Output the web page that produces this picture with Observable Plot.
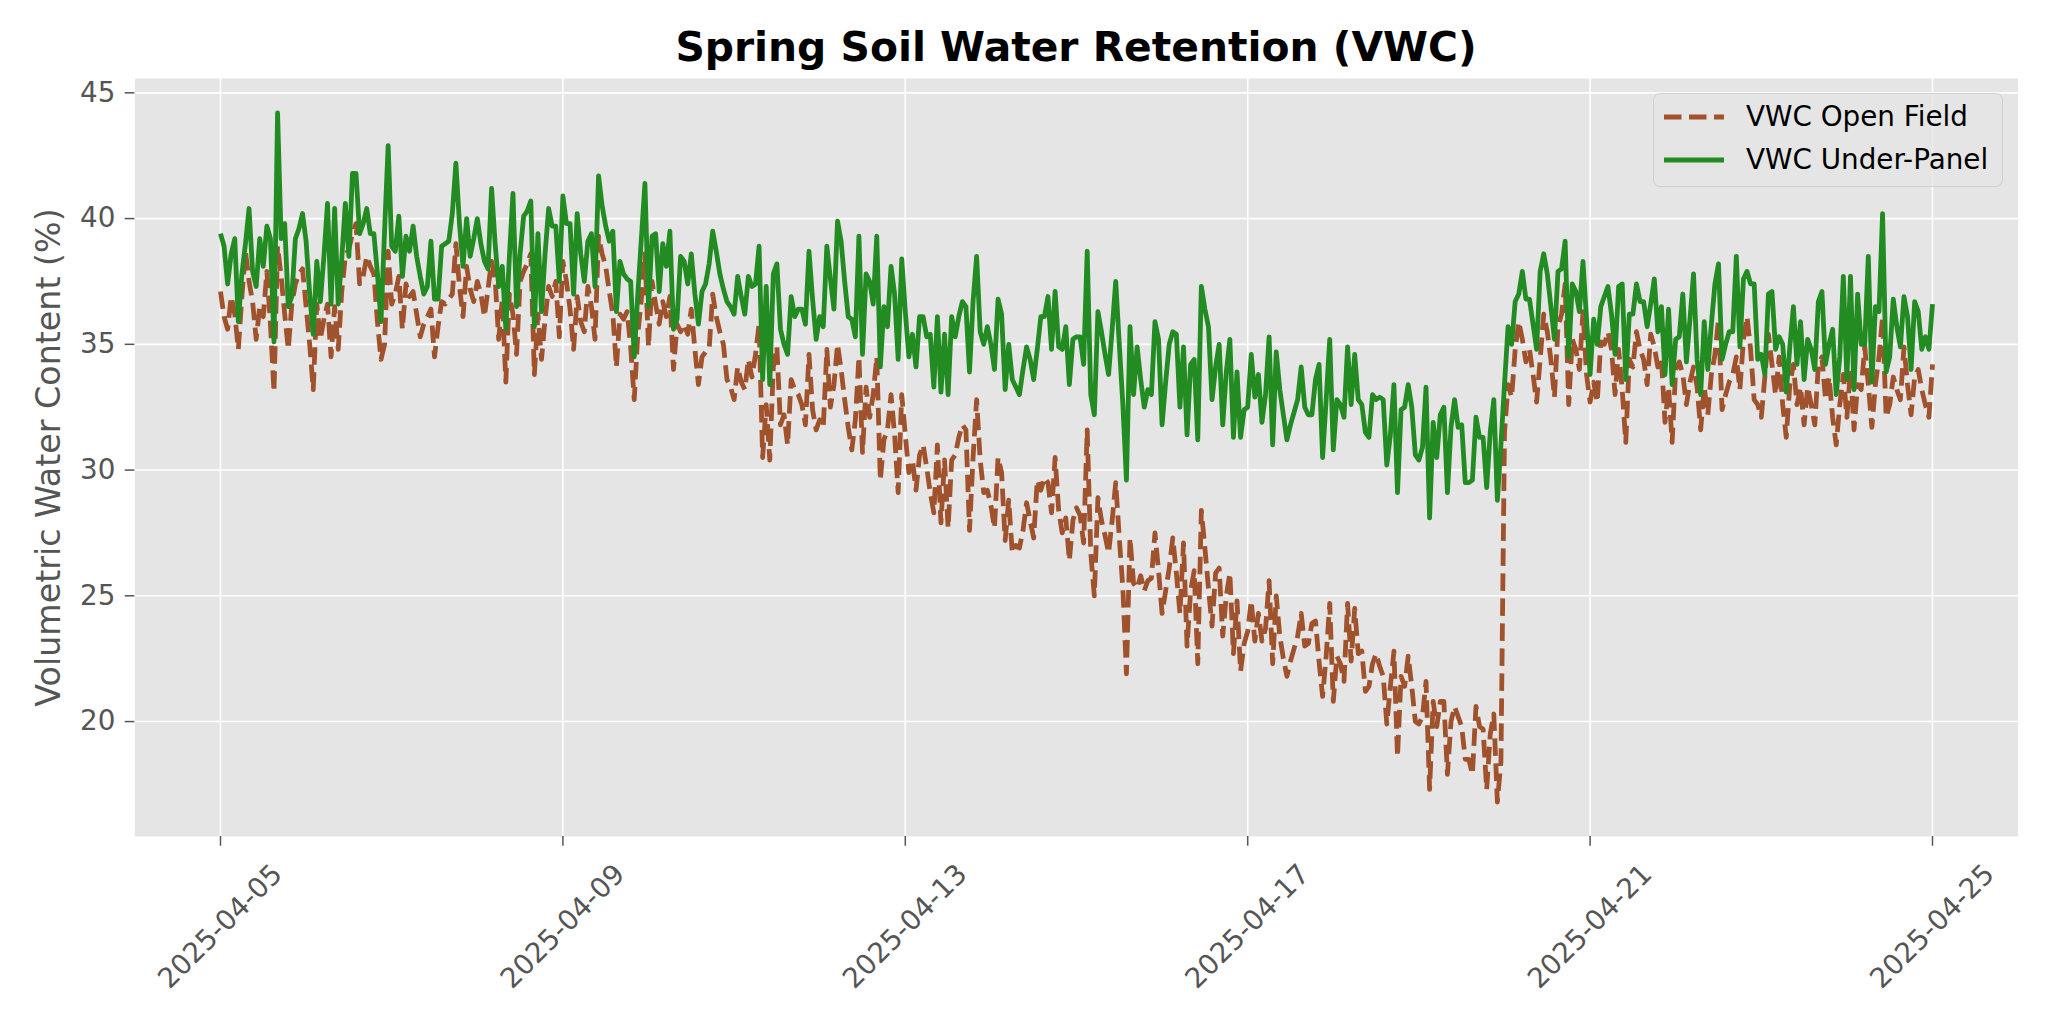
<!DOCTYPE html>
<html>
<head>
<meta charset="utf-8">
<script src="https://cdn.jsdelivr.net/npm/d3@7"></script>
<script src="https://cdn.jsdelivr.net/npm/@observablehq/plot@0.6"></script>
<style>
  body { margin: 0; background: #fff; }
  #chart { position: relative; width: 2048px; height: 1024px; font-family: "DejaVu Sans", sans-serif; }
  #title {
    position: relative; z-index: 2;
    height: 74px; box-sizing: border-box; padding-top: 27px;
    margin-left: 134.4px; width: 1883.2px;
    font-size: 40.8px; line-height: 40px; font-weight: bold; text-align: center; color: #000;
  }
  #legend {
    position: absolute; left: 1653px; top: 92.7px; width: 350px; height: 94px;
    box-sizing: border-box; background: rgba(229,229,229,0.8);
    border: 1.5px solid rgba(204,204,204,0.8); border-radius: 7px; z-index: 3;
  }
  .row { position: absolute; left: 0; height: 40px; line-height: 40px; font-size: 27.8px; color: #000; white-space: nowrap; }
  .row svg { position: absolute; left: 10px; top: 15px; }
  .row span { position: absolute; left: 92px; top: 0; }
</style>
</head>
<body>
<div id="chart">
  <div id="title">Spring Soil Water Retention (VWC)</div>
  <div id="legend"></div>
</div>
<script>
// Hourly volumetric water content (%), 2025-04-05 00:00 UTC through 2025-04-25 00:00 UTC.
const startTime = Date.UTC(2025, 3, 5, 0, 0, 0);
const HOUR = 3600 * 1000;

const openField = [
  37.1,36.1,35.6,36.9,36.2,34.8,36.9,38.7,37.5,36.7,35.2,36.5,36.1,37.9,35.8,33.1,38.9,37.7,36.2,34.8,36.6,37.4,37.8,38.0,
  36.5,35.0,33.2,36.6,35.2,36.0,36.6,34.5,36.5,34.8,37.1,38.5,38.8,39.4,39.8,37.4,37.7,38.5,38.1,37.8,35.9,34.4,35.0,38.7,
  36.6,37.0,37.7,35.6,37.4,36.9,37.1,36.2,35.3,35.8,36.1,36.4,34.5,35.7,36.7,36.6,36.8,37.0,39.0,37.3,36.1,38.1,37.2,36.7,
  37.5,37.0,36.1,37.2,38.3,37.6,35.2,36.8,33.5,37.0,36.2,34.6,37.5,37.9,38.2,38.6,33.8,36.2,34.4,36.0,37.3,36.9,37.5,35.3,
  38.3,37.5,36.4,34.8,36.9,35.9,35.5,37.3,36.5,35.2,39.3,38.6,38.1,37.1,36.2,34.1,36.2,36.0,36.3,34.9,32.8,35.4,36.8,38.6,
  34.9,37.5,36.6,35.8,36.7,36.1,36.9,34.0,35.8,35.5,35.8,35.4,36.4,34.8,33.4,34.5,34.7,34.8,37.0,36.1,35.5,35.0,33.6,33.3,
  32.8,34.1,33.5,33.2,34.4,33.7,34.6,35.8,30.5,32.6,30.4,34.1,34.9,31.8,32.2,31.0,33.6,33.2,33.0,32.6,31.8,34.6,32.4,31.6,
  32.0,31.7,34.8,32.5,33.4,35.0,34.0,32.8,31.7,30.8,32.0,34.5,30.7,33.3,32.1,33.0,34.5,29.6,31.2,31.6,33.0,31.4,29.1,33.0,
  31.4,29.9,30.4,29.2,30.6,31.0,30.1,29.1,28.3,31.0,27.9,30.4,27.7,30.4,30.6,31.3,31.8,31.6,27.6,30.5,32.8,30.4,29.1,29.2,
  28.6,27.7,30.5,29.9,27.2,28.8,26.7,27.0,26.9,27.6,28.7,28.0,27.3,29.6,29.2,29.7,29.5,28.3,30.5,28.4,27.5,28.1,26.4,28.0,
  28.5,28.2,27.1,31.6,26.7,25.0,28.9,28.0,27.4,26.7,28.0,29.5,27.3,25.3,21.9,27.3,25.5,25.3,25.8,25.2,25.6,25.7,27.5,26.0,
  24.3,25.2,26.1,27.3,25.9,24.3,27.1,23.0,25.2,26.0,22.3,28.4,26.9,25.3,23.8,25.9,26.1,23.4,25.0,25.9,22.7,24.8,22.0,23.1,
  23.6,24.8,23.2,24.3,23.2,23.7,25.6,22.3,25.0,23.4,22.5,21.8,22.4,22.9,23.4,24.3,23.0,23.1,23.9,24.0,22.4,21.0,22.6,24.7,
  20.8,22.6,22.3,21.6,24.7,22.4,24.5,22.7,22.8,21.2,21.4,22.3,22.7,22.2,21.8,19.9,21.4,22.8,18.6,21.8,21.4,22.6,21.4,20.0,
  19.9,20.2,21.6,17.3,20.8,19.8,20.8,20.8,17.9,20.0,20.6,20.2,19.8,18.5,18.5,17.9,20.6,19.8,19.7,17.3,19.5,20.3,16.8,18.4,
  31.5,33.4,32.9,34.8,35.9,35.2,34.3,34.8,33.8,32.7,34.4,36.2,35.5,34.4,32.9,35.7,36.2,37.4,32.6,35.2,34.8,34.0,36.3,33.8,
  32.7,33.5,32.7,35.1,35.0,35.5,34.8,33.0,34.8,33.2,31.1,34.4,34.1,35.5,34.8,34.4,33.4,35.4,34.9,34.1,34.4,31.9,33.3,31.1,
  34.0,34.3,33.8,32.6,33.5,34.1,33.3,31.6,33.3,32.2,33.8,34.6,36.0,32.4,33.0,33.5,33.8,34.5,33.2,35.2,36.1,34.8,32.8,32.6,
  32.1,33.7,35.4,34.2,33.0,34.5,32.6,31.3,33.4,34.2,32.6,33.3,31.8,33.3,32.6,31.8,34.2,34.5,32.8,33.7,32.1,31.0,32.6,33.8,
  32.1,34.0,31.6,33.4,33.2,34.9,33.4,31.7,33.4,34.5,36.1,32.1,32.6,33.7,33.2,32.8,34.9,33.4,32.2,33.7,34.0,33.2,32.6,32.1,
  34.2
];

const underPanel = [
  39.4,38.9,37.4,38.6,39.2,35.9,37.8,39.0,40.4,37.9,37.3,39.2,38.1,39.7,39.2,35.1,44.2,39.2,39.8,36.5,36.9,39.2,39.6,40.2,
  39.1,37.0,35.4,38.3,36.7,38.5,40.6,36.6,40.4,36.6,38.4,40.6,38.5,41.8,41.8,39.4,39.8,40.4,39.4,39.4,37.8,35.9,39.5,42.9,
  38.9,38.7,40.1,37.7,39.3,38.7,39.7,38.5,37.7,37.0,37.3,39.1,36.8,36.8,38.9,39.0,39.1,40.2,42.2,39.8,38.1,40.0,38.5,39.2,
  40.0,39.0,38.3,38.0,41.2,39.0,37.3,38.1,35.6,38.5,41.0,36.5,38.6,40.1,40.3,40.7,35.7,39.4,36.3,38.6,40.4,39.7,39.7,37.5,
  40.9,39.8,39.8,37.0,40.2,38.6,37.5,39.1,39.4,37.3,41.7,40.5,39.7,39.1,39.5,36.3,38.3,37.8,37.6,37.5,34.5,37.0,39.2,41.4,
  36.5,39.3,39.4,37.1,39.0,38.1,39.5,35.6,36.0,38.5,38.3,37.4,38.6,37.0,35.8,37.1,37.4,38.2,39.5,38.7,37.8,37.2,36.7,36.5,
  36.2,37.7,36.9,36.2,37.7,37.3,37.4,38.9,33.6,37.3,33.4,37.8,38.2,35.6,35.0,34.6,36.9,36.1,36.4,36.4,35.8,38.7,36.8,35.2,
  36.1,35.7,38.9,37.6,36.4,39.9,39.1,37.5,36.1,36.0,35.3,39.3,34.6,37.8,37.5,36.6,39.3,34.1,36.5,35.7,38.1,37.0,34.4,38.4,
  36.3,34.5,35.4,34.1,36.1,36.1,35.3,35.4,33.3,36.1,33.1,35.4,33.0,36.1,35.3,36.1,36.7,36.5,33.9,36.7,38.5,35.5,35.0,35.7,
  35.0,34.0,36.8,36.2,33.2,35.0,33.6,33.3,33.0,34.0,34.9,34.4,33.6,34.8,36.1,36.1,36.9,34.8,37.1,34.9,34.8,35.7,33.4,35.2,
  35.3,35.3,34.2,38.7,33.0,32.2,36.3,35.5,34.6,33.8,35.6,37.5,35.0,32.6,29.6,35.7,33.0,34.9,33.6,32.5,33.2,33.0,35.9,35.2,
  31.8,33.5,35.0,35.5,35.4,32.5,34.9,31.4,34.2,34.4,31.2,37.3,36.4,35.7,32.8,34.1,35.0,31.8,33.9,35.2,31.3,33.9,31.3,32.4,
  32.5,34.6,32.9,33.8,31.9,33.0,35.3,31.0,34.7,33.2,32.2,31.2,31.8,32.3,32.8,34.1,32.5,32.2,32.2,33.6,34.2,30.5,32.8,35.2,
  30.8,32.8,32.6,32.1,34.9,32.6,34.6,32.8,32.6,31.5,31.3,33.0,32.8,32.9,32.8,30.2,31.4,33.4,29.1,32.4,32.5,33.4,32.5,30.6,
  30.4,30.9,33.3,28.1,31.9,30.5,32.2,32.5,29.1,31.7,32.8,31.7,31.8,29.5,29.5,29.6,32.1,31.3,31.3,29.3,31.5,32.8,28.8,31.0,
  33.4,35.7,35.0,36.7,37.0,37.9,36.8,36.8,35.8,34.8,37.9,38.6,37.8,36.5,35.2,37.9,38.0,39.1,34.5,37.4,37.1,36.3,38.3,36.0,
  33.8,36.0,35.0,36.5,36.9,37.3,36.2,34.6,37.3,37.4,33.6,36.2,36.2,37.4,36.7,36.7,35.7,36.6,37.6,35.5,36.5,33.8,36.4,33.4,
  35.2,35.3,37.0,34.3,36.0,37.8,34.4,33.0,35.9,34.0,35.8,37.4,38.2,34.4,35.0,35.5,35.5,38.5,34.9,37.6,37.9,37.4,37.4,34.4,
  34.6,33.8,37.0,37.1,34.8,35.3,35.0,33.1,34.9,36.5,34.2,35.9,33.6,35.2,34.8,34.0,36.7,37.1,34.2,35.0,35.6,33.0,34.5,37.7,
  33.6,37.7,33.2,37.0,35.0,35.0,38.5,33.5,36.5,36.3,40.2,33.9,34.5,36.8,35.7,34.9,36.9,36.1,34.0,36.7,36.3,34.8,35.3,34.8,
  36.6
];

const seriesNames = ["VWC Open Field", "VWC Under-Panel"];
const seriesColors = ["#A0522D", "#228B22"];
const seriesDash = ["17.5,7.5", null];
const xTickLabels = ["2025-04-05", "2025-04-09", "2025-04-13", "2025-04-17", "2025-04-21", "2025-04-25"];
const yTickValues = [20, 25, 30, 35, 40, 45];
const yLabel = "Volumetric Water Content (%)";

// Build tidy rows for the two series
const toRows = (values) => values.map((v, i) => ({t: new Date(startTime + i * HOUR), v}));
const openRows = toRows(openField);
const underRows = toRows(underPanel);

const xTicks = xTickLabels.map((s) => new Date(s + "T00:00:00Z"));

// Axis extents with 5% padding on both scales
const [vLo, vHi] = d3.extent(openField.concat(underPanel));
const vPad = (vHi - vLo) * 0.05;
const t0 = startTime, t1 = startTime + (openField.length - 1) * HOUR;
const tPad = (t1 - t0) * 0.05;

const fmt = d3.utcFormat("%Y-%m-%d");

const chart = Plot.plot({
  width: 2048,
  height: 950,
  marginTop: 4,
  marginBottom: 188,
  marginLeft: 134.4,
  marginRight: 30.4,
  style: {fontFamily: "DejaVu Sans, sans-serif", fontSize: "27.8px", color: "#555555", background: "white", overflow: "visible"},
  x: {type: "utc", domain: [new Date(t0 - tPad), new Date(t1 + tPad)]},
  y: {domain: [vLo - vPad, vHi + vPad]},
  marks: [
    Plot.frame({fill: "#E5E5E5", stroke: null}),
    Plot.gridX(xTicks, {stroke: "white", strokeOpacity: 1, strokeWidth: 1.6}),
    Plot.gridY(yTickValues, {stroke: "white", strokeOpacity: 1, strokeWidth: 1.6}),
    Plot.axisY(yTickValues, {tickSize: 9.7, tickPadding: 9.7, fontSize: 27.8, label: null, strokeWidth: 1.5}),
    // tick marks only
    Plot.axisX(xTicks, {tickSize: 9.7, tickFormat: () => "", label: null, strokeWidth: 1.5}),
    // rotated date labels, each centred horizontally under its tick
    Plot.axisX(xTicks, {tickSize: 0, tickPadding: 33, tickRotate: -45, dx: 57, fontSize: 27.8, tickFormat: fmt, label: null}),
    Plot.line(openRows, {x: "t", y: "v", stroke: seriesColors[0], strokeWidth: 4.8, strokeDasharray: seriesDash[0], strokeLinecap: "butt", strokeLinejoin: "round"}),
    Plot.line(underRows, {x: "t", y: "v", stroke: seriesColors[1], strokeWidth: 4.8, strokeLinecap: "butt", strokeLinejoin: "round"}),
    Plot.text([yLabel], {text: (d) => d, frameAnchor: "left", textAnchor: "middle", rotate: -90, dx: -85.4, fontSize: 33.3, fill: "#555555"})
  ]
});

document.getElementById("chart").appendChild(chart);

// Legend box in the upper-right corner of the plot area
const legend = document.getElementById("legend");
const rowCenters = [23, 66.6];
seriesNames.forEach((name, i) => {
  const row = document.createElement("div");
  row.className = "row";
  row.style.top = (rowCenters[i] - 20) + "px";
  const dash = seriesDash[i] ? `stroke-dasharray="${seriesDash[i]}"` : "";
  row.innerHTML = `<svg width="62" height="10"><line x1="0" x2="60" y1="5" y2="5" stroke="${seriesColors[i]}" stroke-width="4.8" ${dash} stroke-linecap="butt"/></svg><span>${name}</span>`;
  legend.appendChild(row);
});
</script>
</body>
</html>
